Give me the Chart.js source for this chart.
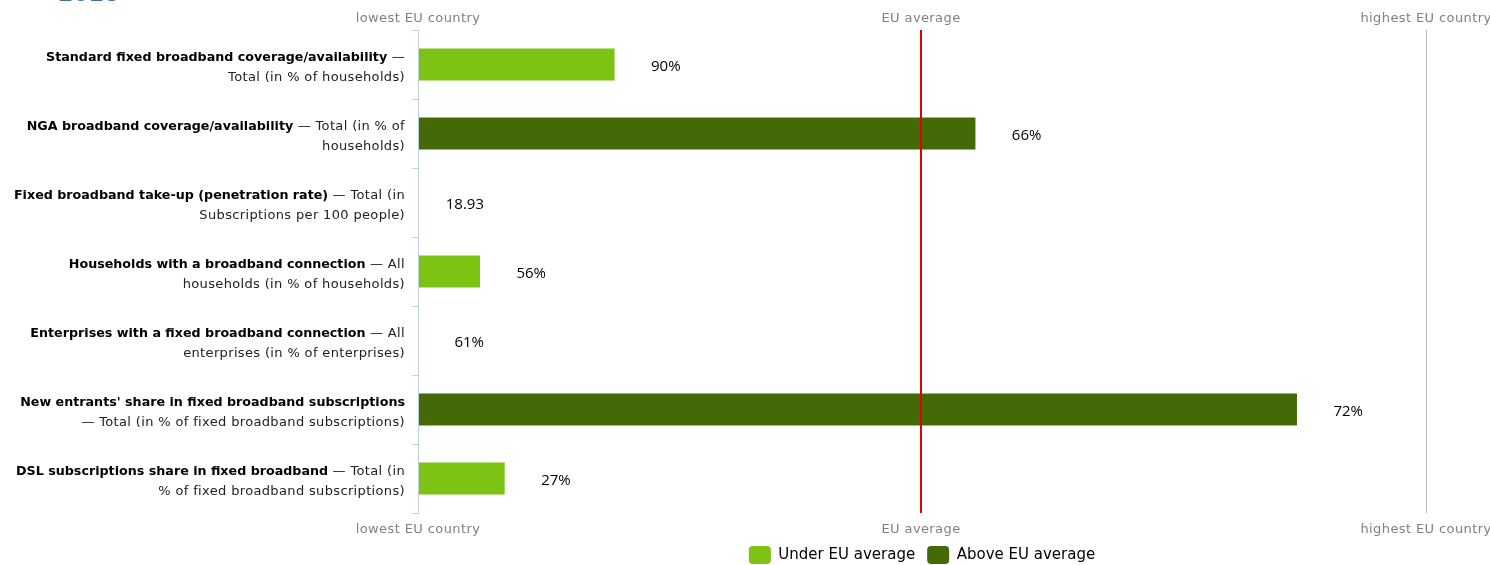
<!DOCTYPE html>
<html>
<head>
<meta charset="utf-8">
<script src="https://cdn.jsdelivr.net/npm/chart.js@4/dist/chart.umd.min.js"></script>
<style>
body{margin:0;background:#fff;overflow:hidden;}
#wrap{position:relative;width:1490px;height:565px;}
#year{position:absolute;left:58px;top:-19px;font:bold 22px "DejaVu Sans";color:#3d6fa6;}
</style>
</head>
<body>
<div id="wrap"><canvas id="grafico"></canvas><div id="year">2018</div></div>
<script>

// indicator names (bold part) and the rest of the label, as two text lines
const titles = [
"Standard fixed broadband coverage/availability",
"NGA broadband coverage/availability",
"Fixed broadband take-up (penetration rate)",
"Households with a broadband connection",
"Enterprises with a fixed broadband connection",
"New entrants' share in fixed broadband subscriptions",
"DSL subscriptions share in fixed broadband"
];
const line1 = ["—", "— Total (in % of", "— Total (in", "— All", "— All", "", "— Total (in"];
const line2 = [
"Total (in % of households)",
"households)",
"Subscriptions per 100 people)",
"households (in % of households)",
"enterprises (in % of enterprises)",
"— Total (in % of fixed broadband subscriptions)",
"% of fixed broadband subscriptions)"
];

// position of the country between lowest (0) and highest (1) EU country
const position = [0.195, 0.553, 0, 0.0615, 0, 0.872, 0.086];
const shownValues = ["90%", "66%", "18.93", "56%", "61%", "72%", "27%"];
const euAverage = 0.499;

const axisTicks = [0, euAverage, 1];
const axisLabels = ["lowest EU country", "EU average", "highest EU country"];
const legendNames = ["Under EU average", "Above EU average"];
const underColor = "#7dc313";
const aboveColor = "#436a06";

const barColors = position.map(v => v > euAverage ? aboveColor : underColor);

const boldFont = "bold 12.7px 'DejaVu Sans'";
const thinFont = "13px 'DejaVu Sans'";
const thinSpacing = "0.35px";

const textPlugin = {
id: "textPlugin",
afterDraw(chart){
const ctx = chart.ctx;
const y = chart.scales.y;
const xb = chart.scales.x;
const xt = chart.scales.x2;
ctx.save();
ctx.textBaseline = "middle";

// category labels
for(let i=0; i<titles.length; i++){
let c = y.getPixelForValue(i);
let right = 405;
ctx.textAlign = "left";
ctx.font = boldFont;
ctx.letterSpacing = "0px";
let wb = ctx.measureText(titles[i]).width;
ctx.font = thinFont;
ctx.letterSpacing = thinSpacing;
let rest = line1[i] ? " " + line1[i] : "";
let wr = rest ? ctx.measureText(rest).width : 0;
let x = right - wb - wr;
ctx.font = boldFont;
ctx.letterSpacing = "0px";
ctx.fillStyle = "#000";
ctx.fillText(titles[i], x, c - 7);
if(rest){
ctx.font = thinFont;
ctx.letterSpacing = thinSpacing;
ctx.fillStyle = "#222";
ctx.fillText(rest, x + wb, c - 7);
}
ctx.font = thinFont;
ctx.letterSpacing = thinSpacing;
ctx.fillStyle = "#222";
ctx.textAlign = "right";
ctx.fillText(line2[i], right, c + 13);
}

// axis labels top and bottom
ctx.font = thinFont;
ctx.letterSpacing = "0.4px";
ctx.fillStyle = "#808080";
ctx.textAlign = "center";
for(let i=0; i<axisTicks.length; i++){
ctx.fillText(axisLabels[i], xt.getPixelForValue(axisTicks[i]), xt.bottom - 11);
ctx.fillText(axisLabels[i], xb.getPixelForValue(axisTicks[i]), xb.top + 17);
}
ctx.letterSpacing = "0px";

// value labels
ctx.font = "15px 'Open Sans'";
ctx.fillStyle = "#000";
ctx.textAlign = "right";
for(let i=0; i<position.length; i++){
ctx.fillText(shownValues[i], xb.getPixelForValue(position[i]) + 66, y.getPixelForValue(i) + 2);
}
ctx.restore();
}
};

const xGrid = {
drawTicks: false,
z: 1,
color: c => c.tick && c.tick.value === euAverage ? "#e00000" : (c.tick && c.tick.value === 1 ? "#c0c0c0" : "rgba(0,0,0,0)"),
lineWidth: c => c.tick && c.tick.value === euAverage ? 2 : 1
};

let ctx = document.getElementById("grafico").getContext("2d");

window.miGrafico = new Chart(ctx, {
type: "bar",
data: {
labels: titles,
datasets: [{
data: position,
backgroundColor: barColors,
borderWidth: 0,
barPercentage: 0.464,
categoryPercentage: 1
}]
},
options: {
indexAxis: "y",
responsive: true,
maintainAspectRatio: false,
animation: false,
layout: {padding: {left: 0, right: 64, top: 0, bottom: -9}},
scales: {
y: {
type: "category",
grid: {drawOnChartArea: false, drawTicks: true, tickLength: 6, color: "#c0d0e0", offset: true},
border: {display: true, color: "#c0d0e0", z: 1},
ticks: {display: false},
afterFit: s => { s.width = 418; }
},
x: {
position: "bottom",
min: 0, max: 1,
afterBuildTicks: s => { s.ticks = axisTicks.map(v => ({value: v})); },
grid: xGrid,
border: {display: false},
ticks: {display: false},
afterFit: s => { s.height = 21; }
},
x2: {
position: "top",
axis: "x",
min: 0, max: 1,
afterBuildTicks: s => { s.ticks = axisTicks.map(v => ({value: v})); },
grid: {display: false},
border: {display: false},
ticks: {display: false},
afterFit: s => { s.height = 30; }
}
},
plugins: {
tooltip: {enabled: false},
legend: {
position: "bottom",
fullSize: false,
labels: {
boxWidth: 22,
boxHeight: 18,
useBorderRadius: true,
borderRadius: 4,
padding: 12,
color: "#274b6d",
font: {family: "DejaVu Sans", size: 15},
generateLabels: () => [
{text: legendNames[0], fillStyle: underColor, strokeStyle: underColor, lineWidth: 0, borderRadius: 4},
{text: legendNames[1], fillStyle: aboveColor, strokeStyle: aboveColor, lineWidth: 0, borderRadius: 4}
]
}
}
}
},
plugins: [textPlugin]
});

</script>
</body>
</html>
